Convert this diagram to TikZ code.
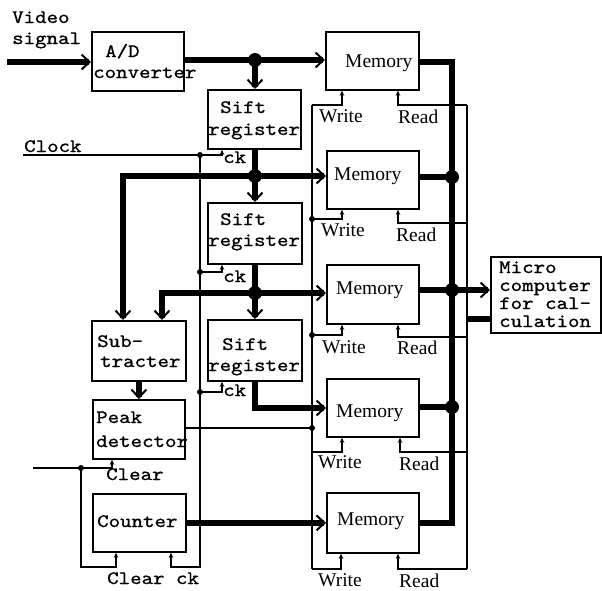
\documentclass[tikz,border=0pt]{standalone}
\usepackage{fontspec}
\setmainfont{Liberation Serif}
\newfontfamily\tw{lmmono10-regular.otf}[FakeStretch=1.15,FakeBold=0.8]
\usetikzlibrary{arrows.meta,calc}
\begin{document}
\begin{tikzpicture}[x=1pt,y=-1pt,
  box/.style={draw, line width=1.8pt, rectangle, inner sep=0pt, anchor=north west},
  bus/.style={line width=5.5pt, line join=miter},
  barb/.style={-{Straight Barb[length=8pt,width=15pt,line width=2pt]}},
  sig/.style={line width=1.2pt},
  tip/.style={-{Stealth[length=5pt,width=4.5pt]}},
  tt/.style={font=\tw\fontsize{19}{18}\selectfont, anchor=base west, inner sep=0pt},
  rm/.style={font=\fontsize{19.5}{20}\selectfont, anchor=base west, inner sep=0pt},
  bigdot/.style={circle, fill, inner sep=0pt, minimum size=14pt},
  smalldot/.style={circle, fill, inner sep=0pt, minimum size=6pt},
]
\useasboundingbox (0,0) rectangle (602,590);

% boxes
\node[box, minimum width=92pt, minimum height=59pt] (ad) at (91,31) {};
\node[box, minimum width=93pt, minimum height=59pt] (sr1) at (207,89) {};
\node[box, minimum width=94pt, minimum height=61pt] (sr2) at (207,202) {};
\node[box, minimum width=94pt, minimum height=61pt] (sr3) at (207,319) {};
\node[box, minimum width=94pt, minimum height=60pt] (sub) at (91,320) {};
\node[box, minimum width=92pt, minimum height=59pt] (pk) at (92,399) {};
\node[box, minimum width=93pt, minimum height=58pt] (cnt) at (92,493) {};
\node[box, minimum width=93pt, minimum height=58pt] (m1) at (325,31) {};
\node[box, minimum width=92pt, minimum height=58pt] (m2) at (326,150) {};
\node[box, minimum width=92pt, minimum height=59pt] (m3) at (326,264) {};
\node[box, minimum width=92pt, minimum height=58pt] (m4) at (326,378) {};
\node[box, minimum width=92pt, minimum height=60pt] (m5) at (326,492) {};
\node[box, minimum width=110pt, minimum height=76pt] (mc) at (490,256) {};

% texts
\node[tt] (tv1) at (12,23) {Video};
\node[tt] (tv2) at (12,44) {signal};
\node[tt] (tad1) at (105,57) {A/D};
\node[tt] (tad2) at (93,78) {converter};
\node[tt] (ts1a) at (220,113) {Sift};
\node[tt] (ts1b) at (208,135) {register};
\node[tt] (ts2a) at (220,225) {Sift};
\node[tt] (ts2b) at (208,246) {register};
\node[tt] (ts3a) at (222,350) {Sift};
\node[tt] (ts3b) at (208,371) {register};
\node[tt] (tclk) at (24,152) {Clock};
\node[tt] (tck1) at (223,163) {ck};
\node[tt] (tck2) at (223,282) {ck};
\node[tt] (tck3) at (223,396) {ck};
\node[tt] (tsub1) at (97,347) {Sub-};
\node[tt] (tsub2) at (100,367) {tracter};
\node[tt] (tpk1) at (96,423) {Peak};
\node[tt] (tpk2) at (96,447) {detector};
\node[tt] (tclr) at (106,480) {Clear};
\node[tt] (tcnt) at (97,527) {Counter};
\node[tt] (tclrck) at (107,584) {Clear ck};
\node[tt] (tmc1) at (499,273) {Micro};
\node[tt] (tmc2) at (499,291) {computer};
\node[tt] (tmc3) at (499,309) {for cal-};
\node[tt] (tmc4) at (499,327) {culation};
\node[rm] (tm1) at (345,67) {Memory};
\node[rm] (tm2) at (334,180) {Memory};
\node[rm] (tm3) at (336,294) {Memory};
\node[rm] (tm4) at (336,417) {Memory};
\node[rm] (tm5) at (337,525) {Memory};
\node[rm] (tw1) at (319,122) {Write};
\node[rm] (tr1) at (398,123) {Read};
\node[rm] (tw2) at (321,236) {Write};
\node[rm] (tr2) at (396,241) {Read};
\node[rm] (tw3) at (322,353) {Write};
\node[rm] (tr3) at (397,354) {Read};
\node[rm] (tw4) at (318,468) {Write};
\node[rm] (tr4) at (399,470) {Read};
\node[rm] (tw5) at (318,586) {Write};
\node[rm] (tr5) at (399,587) {Read};

% coordinates
\coordinate (in) at (7,62);
\coordinate (j1) at (255,60);
\coordinate (j2) at (255,176);
\coordinate (s1) at (123,176);
\coordinate (j3) at (255,293);
\coordinate (s2) at (162,293);
\coordinate (c4) at (255,408);
\coordinate (b1) at (452,62);
\coordinate (b2) at (452,177);
\coordinate (b3) at (452,290);
\coordinate (b4) at (452,407);
\coordinate (b5) at (452,523);
\coordinate (r3s) at (467,319);

% thick data paths
\draw[bus,barb] (in) -- (in -| ad.west);
\draw[bus,barb] (ad.east |- j1) -- (m1.west |- j1);
\draw[bus,barb] (j1) -- (j1 |- sr1.north);
\draw[bus] (j2 |- sr1.south) -- (j2);
\draw[bus,barb] (j2) -- (m2.west |- j2);
\draw[bus,barb] (j2) -- (s1) -- (s1 |- sub.north);
\draw[bus,barb] (j2) -- (j2 |- sr2.north);
\draw[bus] (j3 |- sr2.south) -- (j3);
\draw[bus,barb] (j3) -- (m3.west |- j3);
\draw[bus,barb] (j3) -- (s2) -- (s2 |- sub.north);
\draw[bus,barb] (j3) -- (j3 |- sr3.north);
\draw[bus,barb] (c4 |- sr3.south) -- (c4) -- (m4.west |- c4);
\draw[bus,barb] (sub.south) -- (sub.south |- pk.north);
\draw[bus,barb] (cnt.east) -- (m5.west);
\draw[bus] (m1.east |- b1) -- (b1) -- (b5) -- (m5.east |- b5);
\draw[bus] (m2.east |- b2) -- (b2);
\draw[bus] (m4.east |- b4) -- (b4);
\draw[bus,barb] (m3.east |- b3) -- (mc.west |- b3);
\draw[bus] (r3s) -- (mc.west |- r3s);
\foreach \p in {j1,j2,j3,b2,b3,b4} \node[bigdot] at (\p) {};

% clock
\coordinate (clk) at (23,155);
\coordinate (ck1) at (222,155);
\coordinate (cv) at (200,155);
\coordinate (cb) at (200,567);
\coordinate (cck) at (171,567);
\coordinate (cv2) at (200,272);
\coordinate (ck2) at (222,272);
\coordinate (cv3) at (200,392);
\coordinate (ck3) at (222,392);
\draw[sig,tip] (clk) -- (ck1) -- (ck1 |- sr1.south);
\draw[sig,tip] (cv) -- (cb) -- (cck) -- (cck |- cnt.south);
\draw[sig,tip] (cv2) -- (ck2) -- (ck2 |- sr2.south);
\draw[sig,tip] (cv3) -- (ck3) -- (ck3 |- sr3.south);
\foreach \p in {cv,cv2,cv3} \node[smalldot] at (\p) {};

% clear
\coordinate (clr) at (33,468);
\coordinate (clrj) at (81,468);
\coordinate (clrp) at (112,468);
\coordinate (clrb) at (81,567);
\coordinate (clrc) at (116,567);
\draw[sig,tip] (clr) -- (clrp) -- (clrp |- pk.south);
\draw[sig,tip] (clrj) -- (clrb) -- (clrc) -- (clrc |- cnt.south);
\node[smalldot] at (clrj) {};

% write lines
\coordinate (wtop) at (312,105);
\coordinate (wbot) at (312,569);
\coordinate (w1) at (342,105);
\coordinate (wj2) at (312,219);
\coordinate (w2) at (342,219);
\coordinate (wj3) at (312,335);
\coordinate (w3) at (342,335);
\coordinate (wj4) at (312,452);
\coordinate (w4) at (342,452);
\coordinate (w5) at (341,569);
\coordinate (pj) at (312,428);
\draw[sig] (wtop) -- (wbot);
\draw[sig,tip] (wtop) -- (w1) -- (w1 |- m1.south);
\draw[sig,tip] (wj2) -- (w2) -- (w2 |- m2.south);
\draw[sig,tip] (wj3) -- (w3) -- (w3 |- m3.south);
\draw[sig,tip] (wj4) -- (w4) -- (w4 |- m4.south);
\draw[sig,tip] (wbot) -- (w5) -- (w5 |- m5.south);
\draw[sig] (pk.east |- pj) -- (pj);
\foreach \p in {wj2,wj3,pj} \node[smalldot] at (\p) {};

% read lines
\coordinate (rtop) at (467,105);
\coordinate (rbot) at (467,569);
\coordinate (r1) at (398,105);
\coordinate (rj2) at (467,223);
\coordinate (r2) at (398,223);
\coordinate (rj3) at (467,337);
\coordinate (r3) at (398,337);
\coordinate (rj4) at (467,452);
\coordinate (r4) at (400,452);
\coordinate (r5) at (398,569);
\draw[sig] (rtop) -- (rbot);
\draw[sig,tip] (rtop) -- (r1) -- (r1 |- m1.south);
\draw[sig,tip] (rj2) -- (r2) -- (r2 |- m2.south);
\draw[sig,tip] (rj3) -- (r3) -- (r3 |- m3.south);
\draw[sig,tip] (rj4) -- (r4) -- (r4 |- m4.south);
\draw[sig,tip] (rbot) -- (r5) -- (r5 |- m5.south);
\end{tikzpicture}
\end{document}
